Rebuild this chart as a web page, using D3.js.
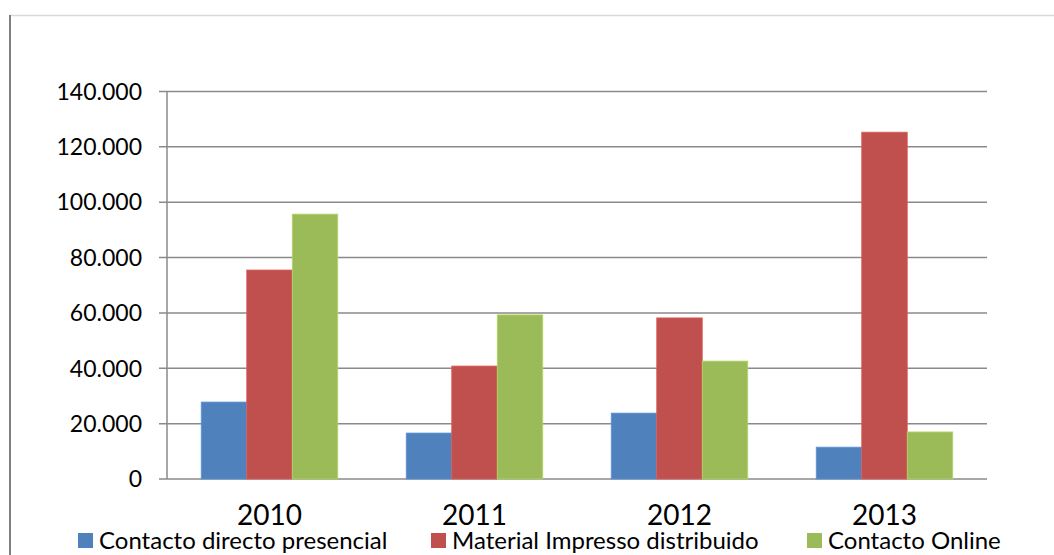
<!DOCTYPE html>
<html lang="pt">
<head>
<meta charset="UTF-8">
<title>Contactos por ano</title>
<script src="https://d3js.org/d3.v7.min.js"></script>
<style>
  body { margin: 0; background: #fff; }
  svg { display: block; font-family: Lato, "Open Sans", sans-serif; }
  .grid line { stroke: #8a8a8a; stroke-width: 1.5; }
  .tick-label { font-size: 23px; fill: #000; }
  .cat-label { font-size: 28px; fill: #000; }
  .legend text { font-size: 24px; fill: #000; }
</style>
</head>
<body>
<script>
// chart data
const years = ["2010", "2011", "2012", "2013"];
const seriesNames = ["Contacto directo presencial", "Material Impresso distribuido", "Contacto Online"];
const presencial = [27800, 16600, 23800, 11500];
const impresso = [75500, 40800, 58200, 125300];
const online = [95700, 59300, 42600, 17000];
const yTicks = [0, 20000, 40000, 60000, 80000, 100000, 120000, 140000];
const colors = ["#4F81BD", "#C0504D", "#9BBB59"];

const series = [presencial, impresso, online];

const width = 1054, height = 555;
const margin = { top: 91.5, right: 67, bottom: 76, left: 167 };

const svg = d3.select("body").append("svg")
    .attr("width", width)
    .attr("height", height);

// outer frame (top and left edges visible)
svg.append("line")
    .attr("x1", 10).attr("x2", width).attr("y1", 15.5).attr("y2", 15.5)
    .attr("stroke", "#d9d9d9").attr("stroke-width", 1.5);
svg.append("line")
    .attr("x1", 10).attr("x2", 10).attr("y1", 15).attr("y2", height)
    .attr("stroke", "#7f7f7f").attr("stroke-width", 2);

const x0 = d3.scaleBand()
    .domain(years)
    .range([margin.left, width - margin.right])
    .paddingInner(0.334)
    .paddingOuter(0.167);

const x1 = d3.scaleBand()
    .domain(d3.range(series.length))
    .range([0, x0.bandwidth()]);

const y = d3.scaleLinear()
    .domain([0, 140000])
    .range([height - margin.bottom, margin.top]);

// gridlines + tick marks
const grid = svg.append("g").attr("class", "grid");
grid.selectAll("line")
    .data(yTicks)
    .join("line")
    .attr("x1", margin.left - 8)
    .attr("x2", width - margin.right)
    .attr("y1", d => y(d))
    .attr("y2", d => y(d));

// y axis line
svg.append("line")
    .attr("x1", margin.left).attr("x2", margin.left)
    .attr("y1", y(140000)).attr("y2", y(0))
    .attr("stroke", "#8a8a8a").attr("stroke-width", 1.5);

const fmt = d => d === 0 ? "0" : d3.format(",")(d).replace(/,/g, ".");

svg.append("g")
    .selectAll("text")
    .data(yTicks)
    .join("text")
    .attr("class", "tick-label")
    .attr("x", margin.left - 25)
    .attr("y", d => y(d))
    .attr("dy", "0.36em")
    .attr("text-anchor", "end")
    .text(fmt);

// bars
const groups = svg.append("g")
    .selectAll("g")
    .data(years)
    .join("g")
    .attr("transform", d => `translate(${x0(d)},0)`);

groups.selectAll("rect")
    .data((d, i) => series.map((s, k) => ({ k, v: s[i] })))
    .join("rect")
    .attr("x", d => x1(d.k))
    .attr("width", x1.bandwidth())
    .attr("y", d => y(d.v))
    .attr("height", d => y(0) - y(d.v))
    .attr("fill", d => colors[d.k])
    .attr("stroke", d => d3.color(colors[d.k]).brighter(0.4))
    .attr("stroke-width", 0.8);

// category labels
svg.append("g")
    .selectAll("text")
    .data(years)
    .join("text")
    .attr("class", "cat-label")
    .attr("x", d => x0(d) + x0.bandwidth() / 2)
    .attr("y", 525)
    .attr("text-anchor", "middle")
    .text(d => d);

// legend
const legendX = [78, 431, 807];
const legend = svg.append("g")
    .selectAll("g")
    .data(seriesNames)
    .join("g")
    .attr("class", "legend")
    .attr("transform", (d, i) => `translate(${legendX[i]},533)`);

legend.append("rect")
    .attr("width", 15).attr("height", 15)
    .attr("fill", (d, i) => colors[i]);

legend.append("text")
    .attr("x", 21)
    .attr("y", 16)
    .text(d => d);
</script>
</body>
</html>
